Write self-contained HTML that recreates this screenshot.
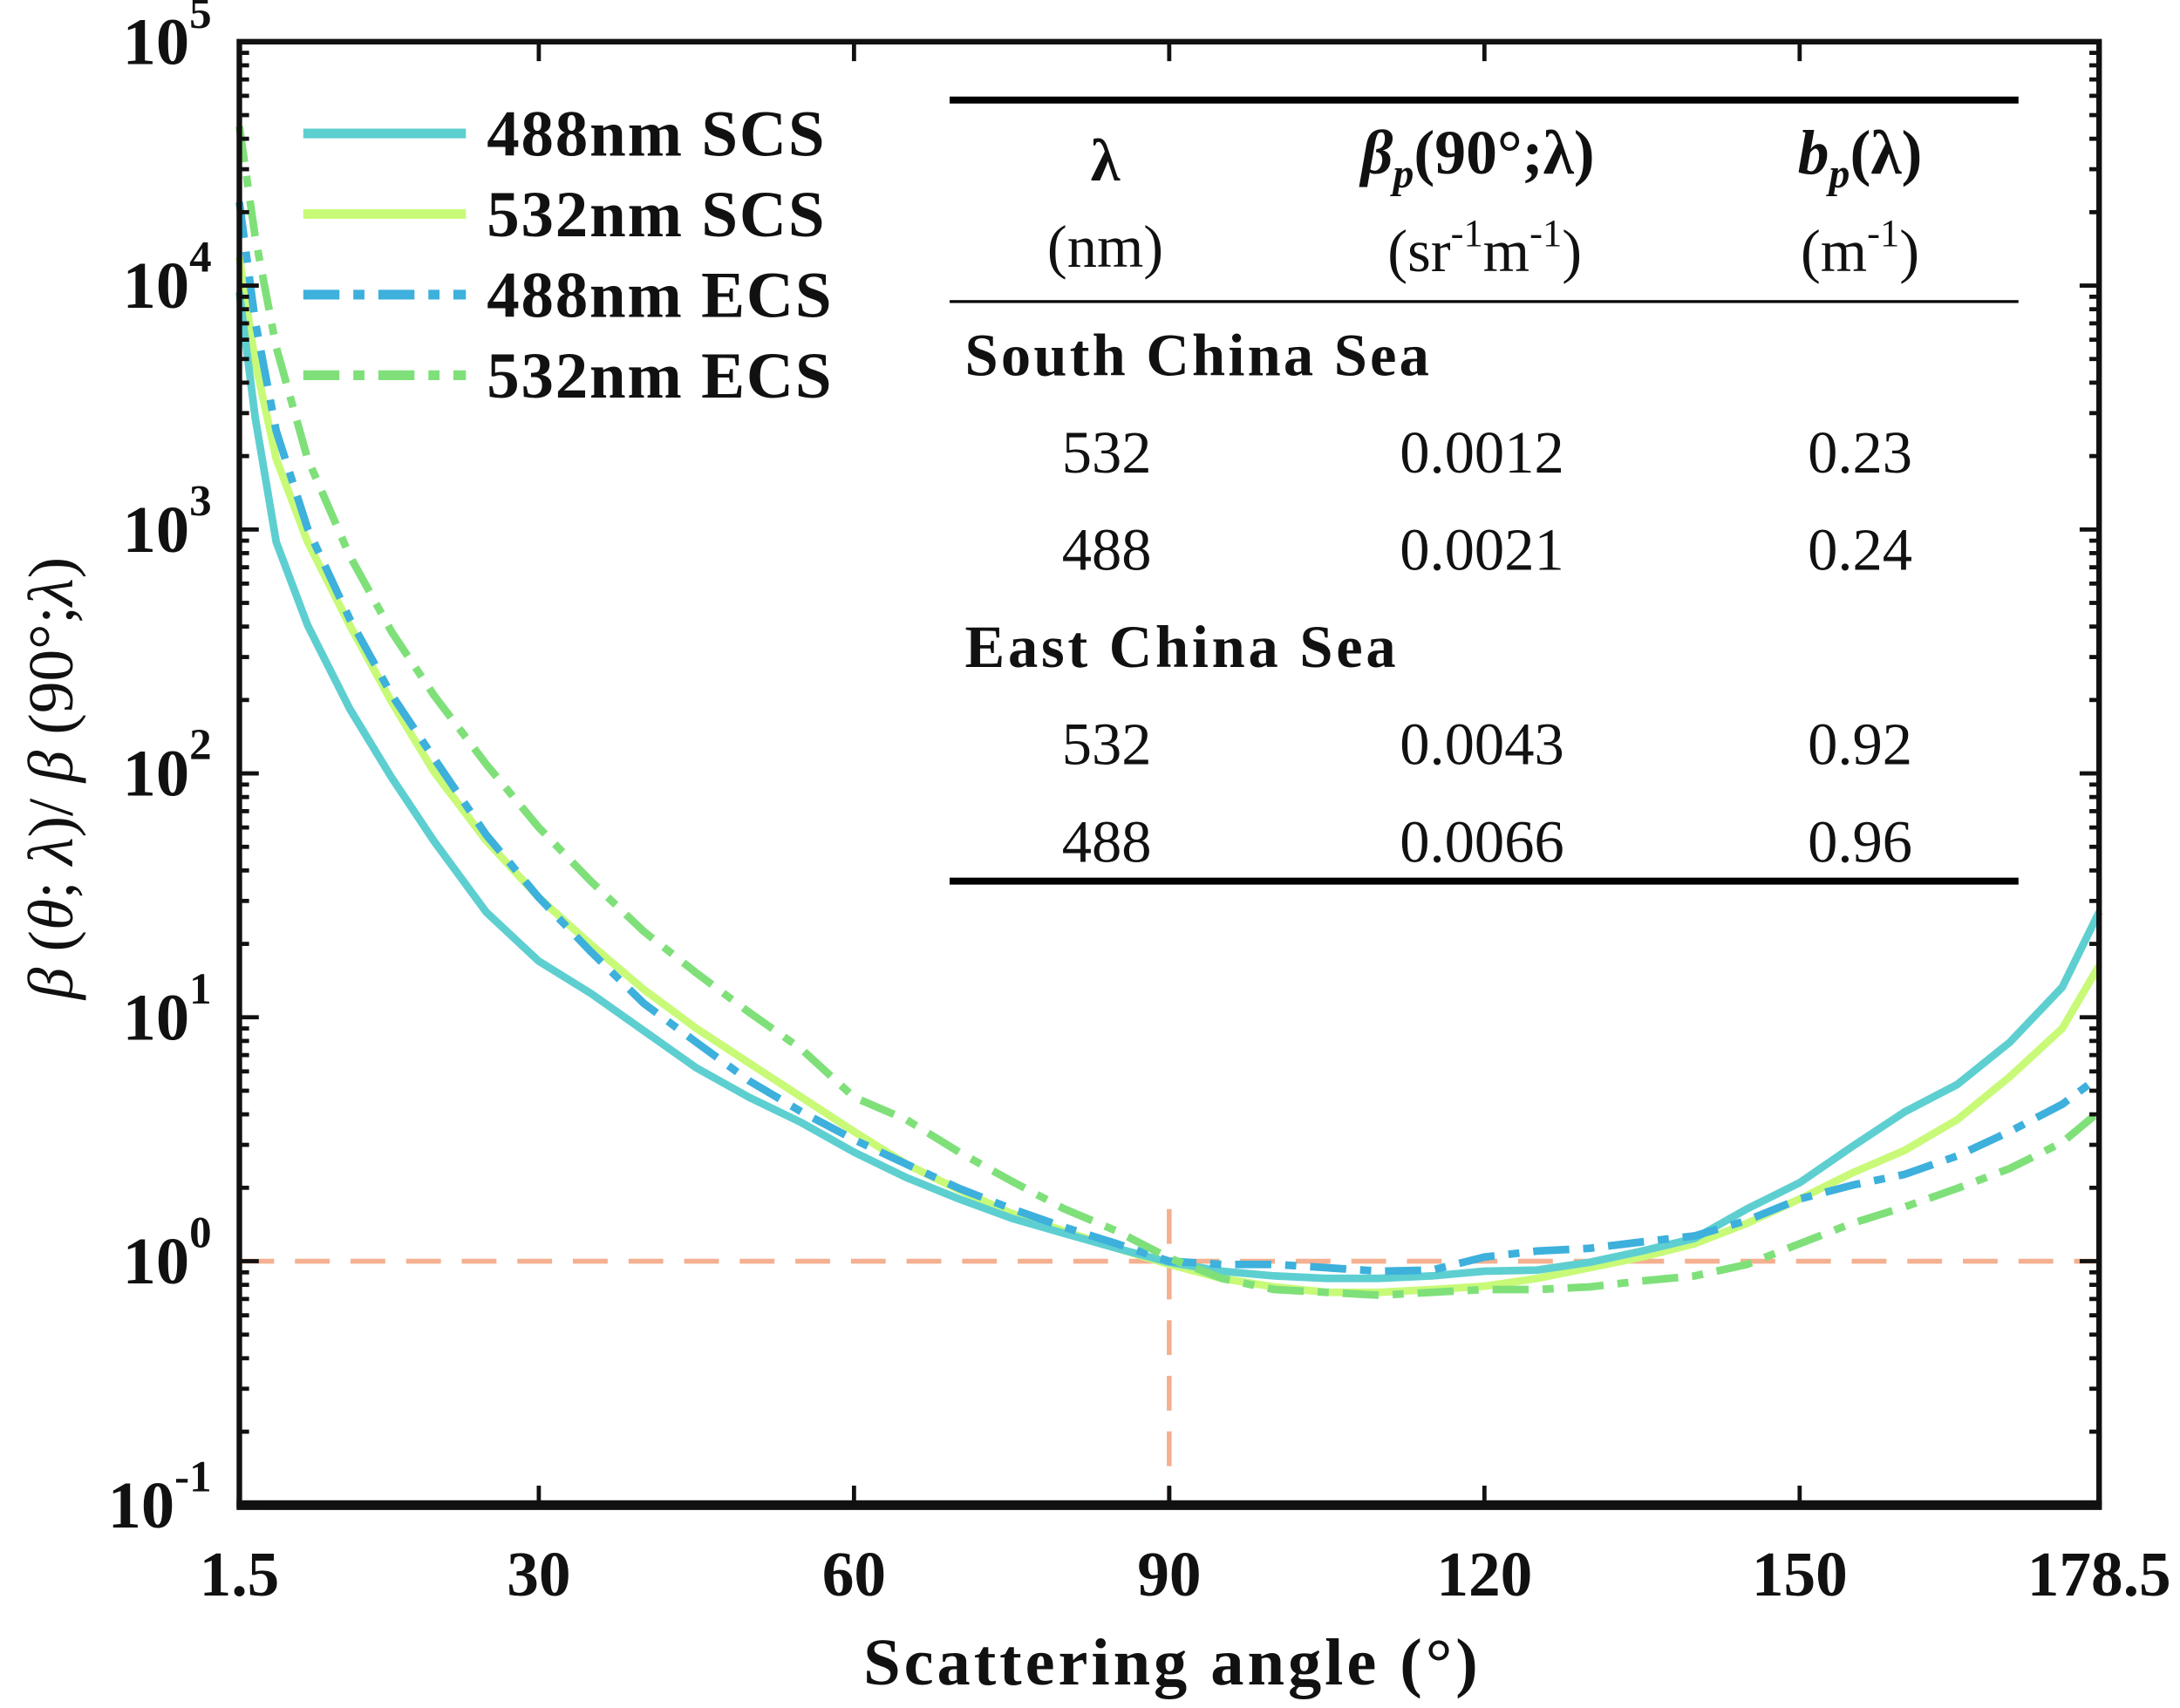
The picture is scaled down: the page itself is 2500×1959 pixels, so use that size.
<!DOCTYPE html>
<html><head><meta charset="utf-8"><style>
html,body{margin:0;padding:0;background:#fff}
svg{display:block}
text{font-family:"Liberation Serif",serif;fill:#111}
</style></head><body>
<svg id="chart" width="2500" height="1959" viewBox="0 0 1568 1229" xmlns="http://www.w3.org/2000/svg">
<g id="grid"></g>
<g id="series"></g>
<g id="axes"></g>
<g font-weight="bold">
  <line x1="218" y1="96" x2="335" y2="96" stroke="#5ecfd0" stroke-width="7"/>
  <text x="350" y="112" font-size="47" font-weight="bold" textLength="243">488nm SCS</text>
  <line x1="218" y1="154" x2="335" y2="154" stroke="#c8fa78" stroke-width="7"/>
  <text x="350" y="170" font-size="47" font-weight="bold" textLength="243">532nm SCS</text>
  <line x1="218" y1="212" x2="335" y2="212" stroke="#3db0dc" stroke-width="7" stroke-dasharray="26,10,8,10"/>
  <text x="350" y="228" font-size="47" font-weight="bold" textLength="248">488nm ECS</text>
  <line x1="218" y1="270" x2="335" y2="270" stroke="#7fe07a" stroke-width="7" stroke-dasharray="26,10,8,10"/>
  <text x="350" y="286" font-size="47" font-weight="bold" textLength="248">532nm ECS</text>
</g>
<g font-size="43">
  <line x1="683" y1="72" x2="1452" y2="72" stroke="#000" stroke-width="5"/>
  <line x1="683" y1="217" x2="1452" y2="217" stroke="#000" stroke-width="2"/>
  <line x1="683" y1="634" x2="1452" y2="634" stroke="#000" stroke-width="5"/>
  <text x="795" y="130" text-anchor="middle" font-weight="bold">λ</text>
  <text x="795" y="192" text-anchor="middle">(nm)</text>
  <text x="1063" y="125" text-anchor="middle" font-weight="bold" font-size="45"><tspan font-style="italic">β</tspan><tspan font-style="italic" font-size="30" dy="10">p</tspan><tspan dy="-10">(90°;λ)</tspan></text>
  <text x="1068" y="195" text-anchor="middle">(sr<tspan font-size="28" dy="-18">-1</tspan><tspan dy="18">m</tspan><tspan font-size="28" dy="-18">-1</tspan><tspan dy="18">)</tspan></text>
  <text x="1338" y="125" text-anchor="middle" font-weight="bold" font-size="45"><tspan font-style="italic">b</tspan><tspan font-style="italic" font-size="30" dy="10">p</tspan><tspan dy="-10">(λ)</tspan></text>
  <text x="1338" y="195" text-anchor="middle">(m<tspan font-size="28" dy="-18">-1</tspan><tspan dy="18">)</tspan></text>
  <text x="694" y="270" font-weight="bold" textLength="334">South China Sea</text>
  <text x="796" y="340" text-anchor="middle">532</text>
  <text x="1066" y="340" text-anchor="middle">0.0012</text>
  <text x="1338" y="340" text-anchor="middle">0.23</text>
  <text x="796" y="410" text-anchor="middle">488</text>
  <text x="1066" y="410" text-anchor="middle">0.0021</text>
  <text x="1338" y="410" text-anchor="middle">0.24</text>
  <text x="694" y="480" font-weight="bold" textLength="310">East China Sea</text>
  <text x="796" y="550" text-anchor="middle">532</text>
  <text x="1066" y="550" text-anchor="middle">0.0043</text>
  <text x="1338" y="550" text-anchor="middle">0.92</text>
  <text x="796" y="620" text-anchor="middle">488</text>
  <text x="1066" y="620" text-anchor="middle">0.0066</text>
  <text x="1338" y="620" text-anchor="middle">0.96</text>
</g>
<text x="842" y="1212" text-anchor="middle" font-size="48" font-weight="bold" textLength="442">Scattering angle (°)</text>
<text transform="translate(52,560) rotate(-90)" text-anchor="middle" font-size="46"><tspan font-style="italic">β</tspan> (<tspan font-style="italic">θ</tspan>; <tspan font-style="italic">λ</tspan>)/ <tspan font-style="italic">β</tspan> (90°;<tspan font-style="italic">λ</tspan>)</text>
</svg>
<script>
const angles = [1.5,3,5,8,12,16,20,25,30,35,40,45,50,55,60,65,70,75,80,85,90,95,100,105,110,115,120,125,130,135,140,145,150,155,160,165,170,175,178.5];
const scs488 = [9400,2900,890,405,184,96,53,27,17,12.5,8.8,6.2,4.7,3.7,2.8,2.2,1.8,1.5,1.3,1.13,0.99,0.91,0.87,0.85,0.85,0.87,0.91,0.92,0.99,1.1,1.24,1.64,2.1,2.95,4.1,5.3,7.9,13.3,27];
const scs532 = [13100,4900,1950,890,405,196,102,53,31,19.8,13,9.0,6.5,4.7,3.4,2.5,1.96,1.57,1.33,1.13,0.97,0.85,0.785,0.745,0.745,0.765,0.79,0.85,0.94,1.04,1.18,1.43,1.8,2.3,2.85,3.8,5.7,9.0,16.3];
const ecs488 = [22000,7200,2540,1010,430,210,116,56,31,18.5,11.4,7.9,5.5,4.1,3.15,2.5,1.99,1.64,1.38,1.18,1.0,0.97,0.97,0.94,0.91,0.92,1.04,1.1,1.13,1.2,1.27,1.47,1.8,2.05,2.27,2.7,3.4,4.4,5.7];
const ecs532 = [45000,16000,5600,1950,780,380,210,109,60,36,22.5,15.2,10.5,7.4,4.7,3.8,2.8,2.13,1.64,1.33,1.03,0.85,0.765,0.745,0.725,0.745,0.765,0.765,0.785,0.83,0.87,0.97,1.18,1.43,1.67,1.99,2.4,3.07,4.1];
const xTicks = [1.5,30,60,90,120,150,178.5];
const xTickLabels = ["1.5","30","60","90","120","150","178.5"];
const yExps = [-1,0,1,2,3,4,5];

const NS = "http://www.w3.org/2000/svg";
const L = 172, R = 1510, T = 30, B = 1083;
function xs(a){ return L + (a - 1.5) / 177 * (R - L); }
function ys(v){ return T + (5 - Math.log10(v)) / 6 * (B - T); }
function mk(tag, attrs, parent){
  const e = document.createElementNS(NS, tag);
  for (const k in attrs) e.setAttribute(k, attrs[k]);
  parent.appendChild(e); return e;
}
const grid = document.getElementById('grid');
let h = mk('line', {x1:L, y1:ys(1), x2:R, y2:ys(1), stroke:'#f4b090', 'stroke-width':3.5, 'stroke-dasharray':'25,15'}, grid);


let v = mk('line', {x1:xs(90), y1:870, x2:xs(90), y2:B, stroke:'#f4b090', 'stroke-width':3.5, 'stroke-dasharray':'25,15'}, grid);



const seriesG = document.getElementById('series');
function drawSeries(vals, color, dash, name){
  const d = vals.map((val, i) => (i ? 'L' : 'M') + xs(angles[i]).toFixed(1) + ',' + ys(val).toFixed(1)).join(' ');
  const p = mk('path', {d:d, fill:'none', stroke:color, 'stroke-width':5.5, 'stroke-linejoin':'round'}, seriesG);
  if (dash) p.setAttribute('stroke-dasharray', dash);
  
  
}
drawSeries(scs532, '#c8fa78', null, 'series-532nm-scs');
drawSeries(scs488, '#5ecfd0', null, 'series-488nm-scs');
drawSeries(ecs488, '#3db0dc', '26,10,8,10', 'series-488nm-ecs');
drawSeries(ecs532, '#7fe07a', '26,10,8,10', 'series-532nm-ecs');

const ax = document.getElementById('axes');
const frame = mk('rect', {x:L, y:T, width:R-L, height:B-T, fill:'none', stroke:'#111', 'stroke-width':4}, ax);


mk('line', {x1:L-2, y1:B, x2:R+2, y2:B, stroke:'#111', 'stroke-width':7}, ax);
xTicks.forEach((t, i) => {
  const x = xs(t);
  mk('line', {x1:x, y1:B, x2:x, y2:B-14, stroke:'#111', 'stroke-width':3}, ax);
  mk('line', {x1:x, y1:T, x2:x, y2:T+14, stroke:'#111', 'stroke-width':3}, ax);
  const tx = mk('text', {x:x, y:1148, 'text-anchor':'middle', 'font-size':46, 'font-weight':'bold'}, ax);
  tx.textContent = xTickLabels[i];
  
  
});
yExps.forEach(e => {
  const y = ys(Math.pow(10, e));
  mk('line', {x1:L, y1:y, x2:L+14, y2:y, stroke:'#111', 'stroke-width':3}, ax);
  mk('line', {x1:R, y1:y, x2:R-14, y2:y, stroke:'#111', 'stroke-width':3}, ax);
  if (e < 5) for (let m = 2; m <= 9; m++){
    const ym = ys(m * Math.pow(10, e));
    mk('line', {x1:L, y1:ym, x2:L+7, y2:ym, stroke:'#111', 'stroke-width':3}, ax);
    mk('line', {x1:R, y1:ym, x2:R-7, y2:ym, stroke:'#111', 'stroke-width':3}, ax);
  }
  const tx = mk('text', {x:152, y:y+16, 'text-anchor':'end', 'font-size':48, 'font-weight':'bold'}, ax);
  tx.textContent = '10';
  const sup = mk('tspan', {'font-size':32, dy:-26}, tx);
  sup.textContent = String(e);
  
  
});
</script>
</body></html>
